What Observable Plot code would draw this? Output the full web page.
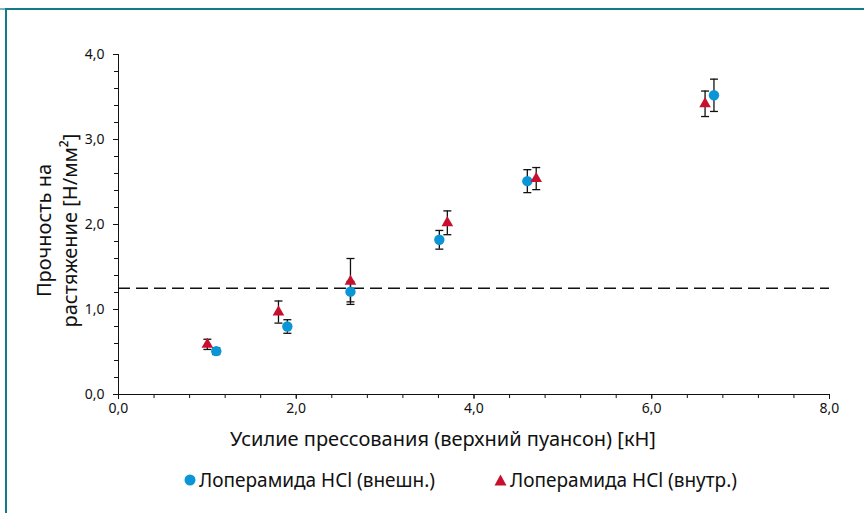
<!DOCTYPE html>
<html><head><meta charset="utf-8">
<script src="https://cdn.jsdelivr.net/npm/d3@7"></script>
<script src="https://cdn.jsdelivr.net/npm/@observablehq/plot@0.6"></script>
<style>
body{margin:0;background:#fff;font-family:"Noto Sans",sans-serif;}
#wrap{position:relative;width:864px;height:513px;overflow:hidden;background:#fff;}
#frame{position:absolute;left:5px;top:8px;right:-5px;bottom:-5px;border-top:2.5px solid #127a88;border-left:2.5px solid #127a88;}
#stub{position:absolute;left:0;top:8px;width:5px;height:2px;background:#7fb3bb;}
#chart{position:absolute;left:0;top:0;}
.leg{position:absolute;top:469px;height:22px;display:flex;align-items:center;font-size:19px;color:#111;white-space:nowrap;}
.leg svg{margin-right:3px;}
</style></head>
<body>
<div id="wrap">
  <div id="stub"></div>
  <div id="frame"></div>
  <div id="chart"></div>
  <div class="leg" style="left:184px"><svg width="12" height="12"><circle cx="6" cy="6" r="5.5" fill="#0a96d6"/></svg><span>Лоперамида HCl (внешн.)</span></div>
  <div class="leg" style="left:494px"><svg width="13" height="12"><path d="M6.5,0.5L12.5,11.5L0.5,11.5Z" fill="#c8102e"/></svg><span>Лоперамида HCl (внутр.)</span></div>
</div>
<script>
// Data
const forceExt    = [1.10, 1.90, 2.61, 3.61, 4.60, 6.70];
const strengthExt = [0.51, 0.80, 1.21, 1.82, 2.51, 3.52];
const errExt      = [0.04, 0.08, 0.12, 0.11, 0.135, 0.19];
const forceInt    = [1.00, 1.80, 2.61, 3.70, 4.70, 6.60];
const strengthInt = [0.59, 0.97, 1.33, 2.02, 2.54, 3.42];
const errInt      = [0.06, 0.13, 0.27, 0.14, 0.13, 0.15];
const threshold = 1.25;
const xMajorTicks = [0, 2, 4, 6, 8];
const yMajorTicks = [0, 1, 2, 3, 4];
const xLabel = "Усилие прессования (верхний пуансон) [кН]";
const yLabel = "Прочность на\nрастяжение [Н/мм²]";

const ext = forceExt.map((x, i) => ({x, y: strengthExt[i], e: errExt[i]}));
const int = forceInt.map((x, i) => ({x, y: strengthInt[i], e: errInt[i]}));
const fmt = d => d3.format(".1f")(d).replace(".", ",");
const cap = {draw(ctx) { ctx.moveTo(-4, 0); ctx.lineTo(4, 0); }};
const blue = "#0a96d6", red = "#c8102e";

const errMarks = data => [
  Plot.ruleX(data, {x: "x", y1: d => d.y - d.e, y2: d => d.y + d.e, stroke: "#111", strokeWidth: 1.3}),
  Plot.dot(data, {x: "x", y: d => d.y - d.e, symbol: cap, stroke: "#111", strokeWidth: 1.3, fill: "none"}),
  Plot.dot(data, {x: "x", y: d => d.y + d.e, symbol: cap, stroke: "#111", strokeWidth: 1.3, fill: "none"})
];

const chart = Plot.plot({
  width: 864,
  height: 465,
  marginLeft: 118,
  marginRight: 35,
  marginTop: 54,
  marginBottom: 71,
  style: {fontFamily: "Noto Sans, sans-serif", fontSize: "14px", color: "#111", background: "transparent"},
  x: {domain: [0, 8]},
  y: {domain: [0, 4]},
  marks: [
    Plot.axisX({ticks: d3.range(0, 8.001, 0.4), tickSize: 4, tickFormat: () => "", label: null}),
    Plot.axisX({ticks: xMajorTicks, tickSize: 5, tickPadding: 4, tickFormat: fmt, label: null, fontSize: 14}),
    Plot.axisY({ticks: d3.range(0, 4.001, 0.2), tickSize: 4, tickFormat: () => "", label: null}),
    Plot.axisY({ticks: yMajorTicks, tickSize: 5, tickPadding: 9, tickFormat: fmt, label: null, fontSize: 14}),
    Plot.ruleX([0], {stroke: "#111"}),
    Plot.ruleY([0], {stroke: "#111"}),
    Plot.ruleY([threshold], {stroke: "#111", strokeWidth: 1.5, strokeDasharray: "12,6"}),
    ...errMarks(ext),
    ...errMarks(int),
    Plot.dot(ext, {x: "x", y: "y", r: 5.2, fill: blue, symbol: "circle"}),
    Plot.dot(int, {x: "x", y: "y", r: 4.3, fill: red, symbol: "triangle"}),
    Plot.text([xLabel], {frameAnchor: "bottom", dx: -31, dy: 45, fontSize: 20, lineAnchor: "middle", fill: "#111"}),
    Plot.text([yLabel], {frameAnchor: "left", textAnchor: "middle", rotate: -90, dx: -63, dy: 6, fontSize: 20, lineHeight: 1.3, lineAnchor: "middle", fill: "#111"})
  ]
});
document.getElementById("chart").appendChild(chart);
</script>
</body></html>
